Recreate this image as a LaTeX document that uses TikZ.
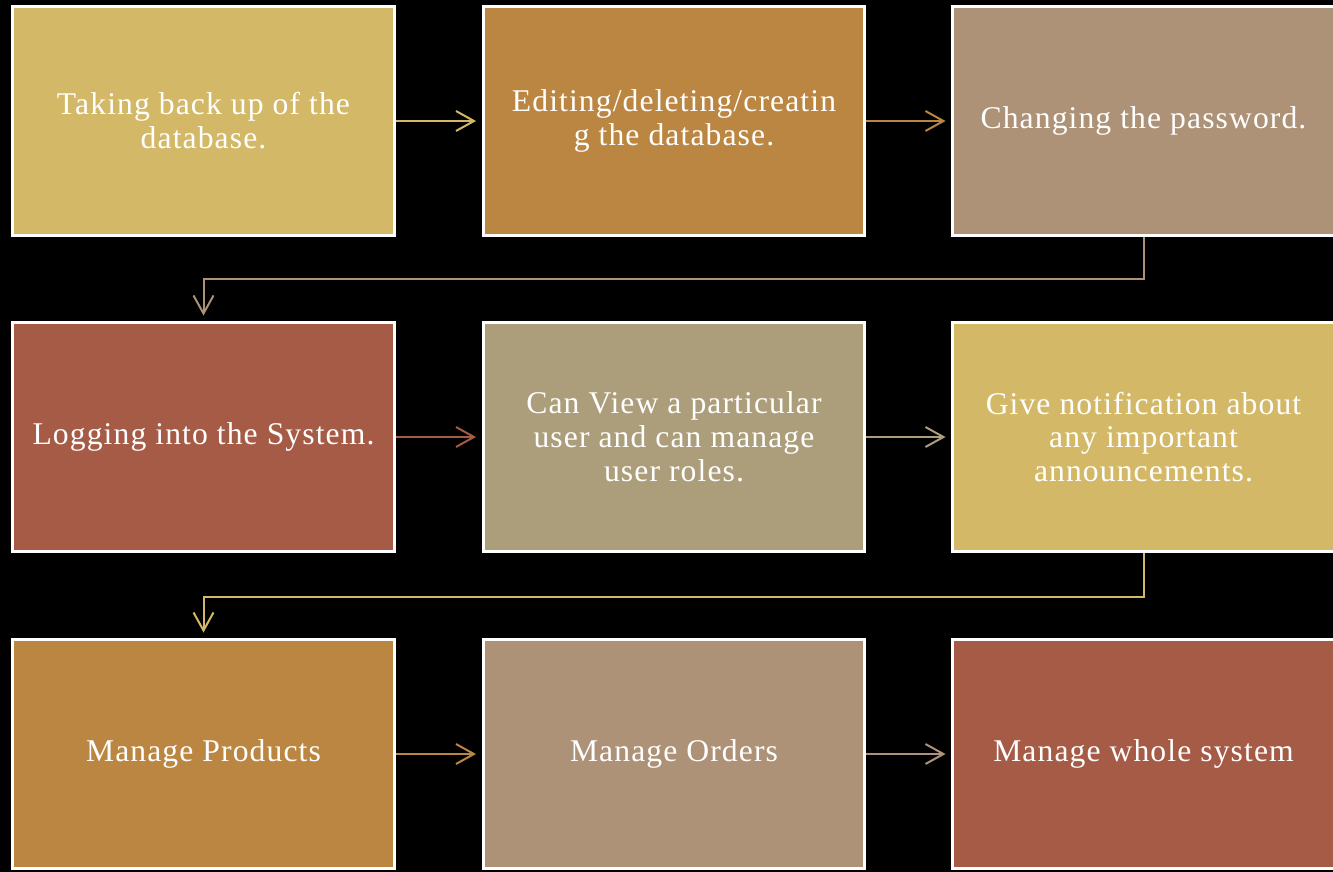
\documentclass[tikz,border=0pt]{standalone}
\usepackage{fontspec}
\setmainfont[LetterSpace=3.5]{Liberation Serif}
\usetikzlibrary{arrows.meta}
\definecolor{gold}{HTML}{D3B967}
\definecolor{ochre}{HTML}{BB8641}
\definecolor{taupe}{HTML}{AD9277}
\definecolor{rust}{HTML}{A55B45}
\definecolor{khaki}{HTML}{AD9E7B}
\begin{document}
\begin{tikzpicture}[x=0.02cm,y=-0.02cm,
    task/.style={rectangle,draw=white,line width=3*0.02cm,minimum width=7.64cm,minimum height=4.58cm,
      text=white,align=center,font=\fontsize{18}{19.3}\selectfont},
    link/.style={line width=0.04cm,shorten >=0.11cm,-{Straight Barb[length=3.6mm,width=4mm]}}]
        \fill[black] (0,0) rectangle (1333,872);
        \useasboundingbox (0,0) rectangle (1333,872);
        \node[task,fill=gold] (t1) at (203.5,121) {Taking back up of the\\database.};
        \node[task,fill=ochre] (t2) at (674,121) {Editing/deleting/creatin\\g the database.};
        \node[task,fill=taupe] (t3) at (1143.5,121) {Changing the password.};
        \node[task,fill=rust] (u1) at (203.5,437) {Logging into the System.};
        \node[task,fill=khaki] (u2) at (674,437) {Can View a particular\\user and can manage\\user roles.};
        \node[task,fill=gold] (u3) at (1143.5,437) {Give notification about\\any important\\announcements.};
        \node[task,fill=ochre] (v1) at (203.5,754) {Manage Products};
        \node[task,fill=taupe] (v2) at (674,754) {Manage Orders};
        \node[task,fill=rust] (v3) at (1143.5,754) {Manage whole system};
        \draw[link,gold] (t1) -- (t2);
        \draw[link,ochre] (t2) -- (t3);
        \draw[link,taupe] (t3.south) -- ++(0,42) -| (u1.north);
        \draw[link,rust] (u1) -- (u2);
        \draw[link,khaki] (u2) -- (u3);
        \draw[link,gold] (u3.south) -- ++(0,44) -| (v1.north);
        \draw[link,ochre] (v1) -- (v2);
        \draw[link,taupe] (v2) -- (v3);
      \end{tikzpicture}
\end{document}
